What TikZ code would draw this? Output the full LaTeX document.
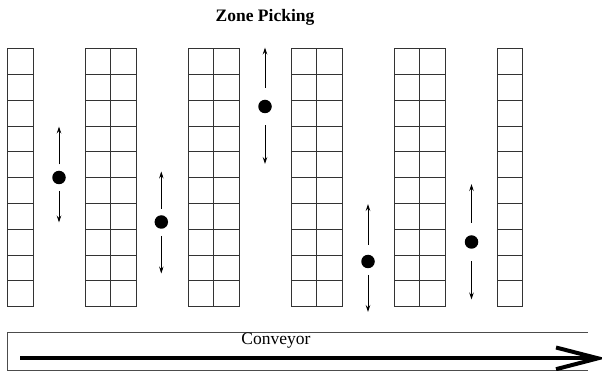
\documentclass[tikz,border=0pt]{standalone}
\usepackage{fontspec}
\setmainfont{Liberation Serif}
\usetikzlibrary{arrows.meta}
\begin{document}
\begin{tikzpicture}[x=1pt,y=-1pt,
  rackline/.style={draw=black!80, line width=0.9pt},
  picker/.style={circle, fill=black, inner sep=0pt, minimum size=13.5pt},
  travel/.style={line width=0.8pt, -{Stealth[length=7pt,width=4.5pt,inset=2.5pt]}},
  belt/.style={line width=4pt},
  frame/.style={draw=black!70, line width=0.8pt}]
\useasboundingbox (0,0) rectangle (602,371);

% title
\node[font=\fontsize{17.5}{20}\selectfont\bfseries] (title) at (265,17) {Zone Picking};

% storage racks: left edge / number of columns
\def\cw{25.8}
\foreach \x/\n in {7.5/1, 85/2, 188/2, 291/2, 394/2, 497/1}{
  \foreach \r in {0,...,9}{
    \foreach \c in {1,...,\n}{
      \draw[rackline] (\x+\c*\cw-\cw, 48.7+\r*\cw) rectangle ++(\cw,\cw);
    }
  }
}

% pickers with travel directions: x / dot y / up tip / up start / down start / down tip
\foreach \i/\x/\y/\ut/\us/\ds/\dt in {
  1/59/177.5/126.5/164.5/191/222.5,
  2/161.3/222/171.5/209/236/273.5,
  3/265/106.5/47.5/88/125.5/164,
  4/368/261.5/204/245/275/312,
  5/471.5/242/184/223/261.5/299.5}{
  \node[picker] (p\i) at (\x,\y) {};
  \coordinate (u\i) at (\x,\ut);
  \coordinate (us\i) at (\x,\us);
  \coordinate (d\i) at (\x,\dt);
  \coordinate (ds\i) at (\x,\ds);
  \draw[travel] (us\i) -- (u\i);
  \draw[travel] (ds\i) -- (d\i);
}

% conveyor
\coordinate (ctl) at (7.5,332.3);
\coordinate (cbl) at (7.5,370.3);
\coordinate (ctr) at (587.7,332.3);
\coordinate (cbr) at (587.7,370.3);
\draw[frame] (ctr) -- (ctl) -- (cbl) -- (cbr);
\node[font=\fontsize{17.5}{20}\selectfont] (conv) at (276,341) {Conveyor};
\coordinate (bs) at (20,358.3);
\coordinate (be) at (598,358.3);
\coordinate (h1) at (556,347.5);
\coordinate (h2) at (556,369.2);
\draw[belt] (bs) -- (be);
\draw[belt, line join=miter] (h1) -- (be) -- (h2);
\end{tikzpicture}
\end{document}
